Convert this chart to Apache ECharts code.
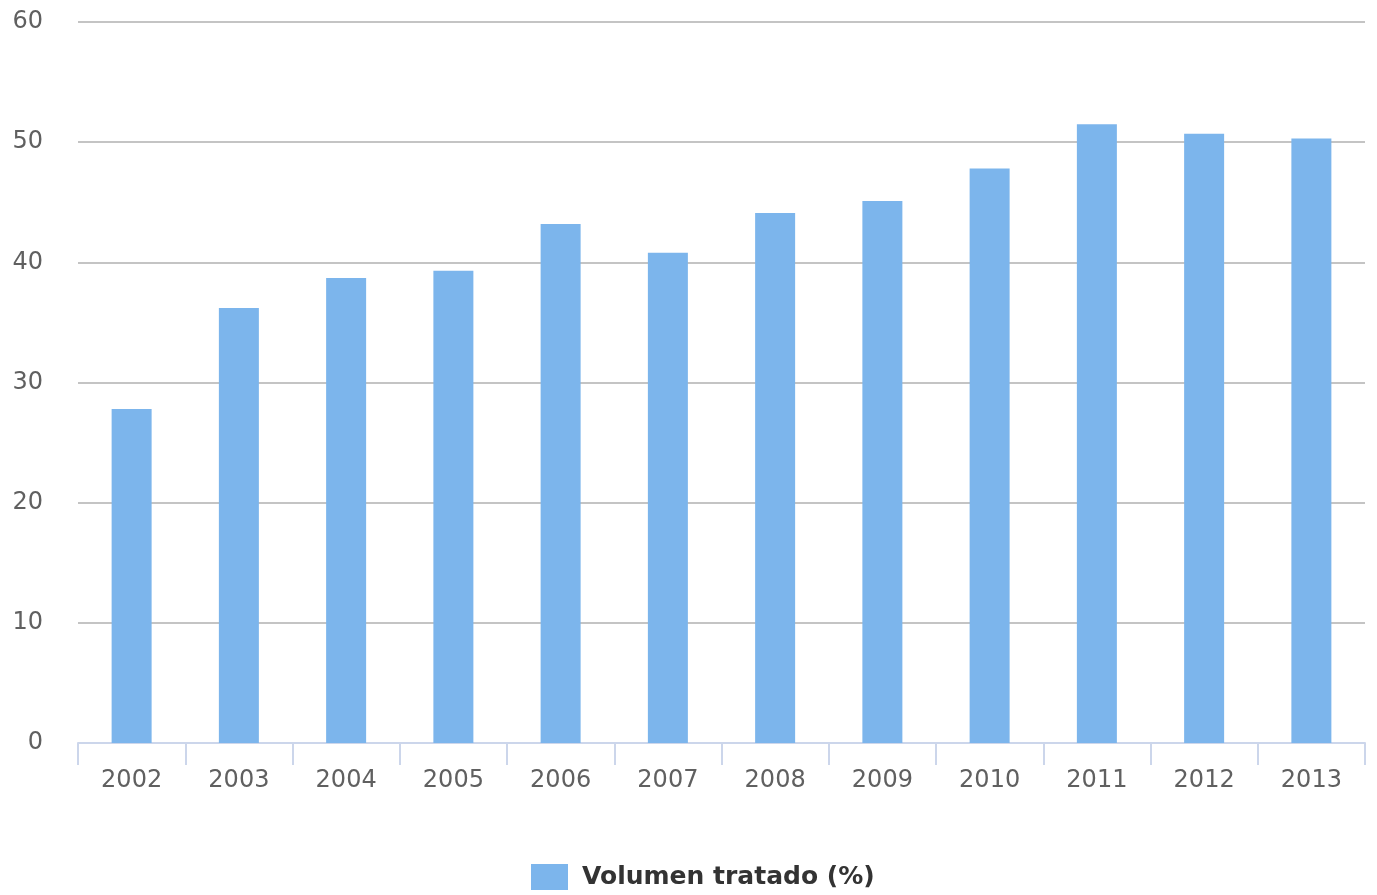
<!DOCTYPE html>
<html>
<head>
<meta charset="utf-8">
<script src="https://cdn.jsdelivr.net/npm/echarts@6/dist/echarts.min.js"></script>
<style>
  html, body { margin: 0; padding: 0; background: #ffffff; }
  #chart { width: 1377px; height: 895px; }
</style>
</head>
<body>
<div id="chart"></div>
<script>
// Years on the category axis
const years = ['2002', '2003', '2004', '2005', '2006', '2007', '2008', '2009', '2010', '2011', '2012', '2013'];
// Treated volume, percent
const volumenTratado = [27.8, 36.2, 38.7, 39.3, 43.2, 40.8, 44.1, 45.1, 47.8, 51.5, 50.7, 50.3];
const seriesName = 'Volumen tratado (%)';
// Value axis range
const yMin = 0, yMax = 60, yStep = 10;

const chart = echarts.init(document.getElementById('chart'));
chart.setOption({
  animation: false,
  textStyle: { fontFamily: 'DejaVu Sans' },
  grid: { left: 78, right: 12, top: 22, bottom: 152, containLabel: false },
  legend: {
    bottom: 0,
    left: 526,
    itemWidth: 37,
    itemHeight: 26,
    icon: 'rect',
    textStyle: {
      fontSize: 25, fontWeight: 'bold', color: '#333333', fontFamily: 'DejaVu Sans',
      padding: [0, 0, 0, 9]
    },
    data: [seriesName]
  },
  xAxis: {
    type: 'category',
    data: years,
    axisLine: { lineStyle: { color: '#ccd6eb', width: 2 } },
    axisTick: { show: true, length: 22, lineStyle: { color: '#ccd6eb', width: 2 } },
    axisLabel: { fontSize: 24, color: '#606060', margin: 26 },
    splitLine: { show: false }
  },
  yAxis: {
    type: 'value',
    min: yMin,
    max: yMax,
    interval: yStep,
    axisLine: { show: false },
    axisTick: { show: false },
    axisLabel: { fontSize: 24, color: '#606060', margin: 35 },
    splitLine: { lineStyle: { color: '#c4c4c4', width: 2 } }
  },
  series: [{
    name: seriesName,
    type: 'bar',
    data: volumenTratado,
    barWidth: 40,
    itemStyle: { color: '#7cb5ec' }
  }]
});
</script>
</body>
</html>
